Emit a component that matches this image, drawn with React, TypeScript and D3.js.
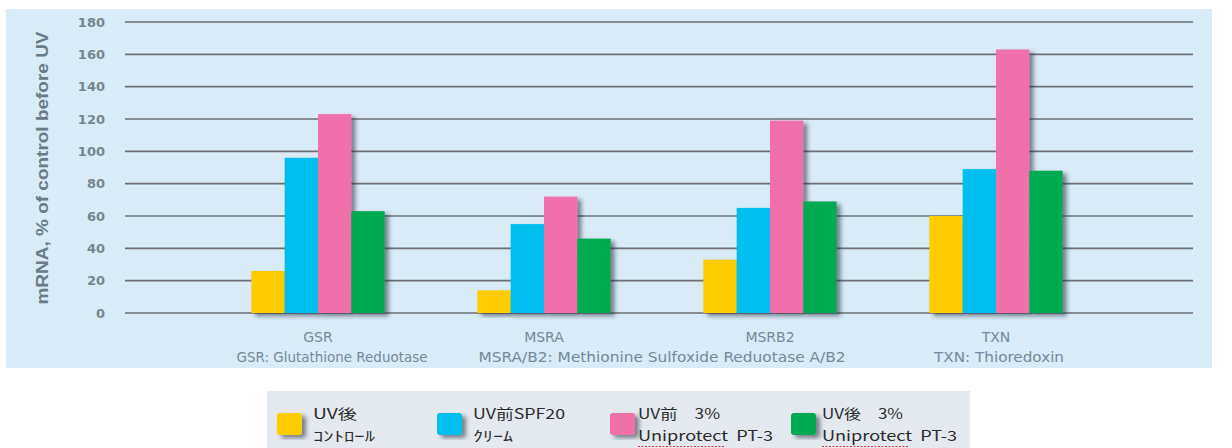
import React, { useEffect, useRef } from 'react';
import * as d3 from 'd3';

const genes = ['GSR', 'MSRA', 'MSRB2', 'TXN'];
const seriesNames = ['uvAfterControl', 'uvBeforeSpf20', 'uvBeforePt3', 'uvAfterPt3'];
const uvAfterControl = [26, 14, 33, 60];
const uvBeforeSpf20 = [96, 55, 65, 89];
const uvBeforePt3 = [123, 72, 119, 163];
const uvAfterPt3 = [63, 46, 69, 88];
const colors = ['#FFCC00', '#00BFF0', '#F06FA9', '#00AA52'];
const yTicks = [0, 20, 40, 60, 80, 100, 120, 140, 160, 180];
const legendLine1 = ['UV後', 'UV前SPF20', 'UV前　3%', 'UV後　3%'];
const legendLine2 = ['ｺﾝﾄﾛｰﾙ', 'ｸﾘｰﾑ', 'Uniprotect  PT-3', 'Uniprotect  PT-3'];
const subtitles = [
  { text: 'GSR: Glutathione Reduotase', at: 'GSR', shift: 14, w: 191 },
  { text: 'MSRA/B2: Methionine Sulfoxide Reduotase A/B2', at: 'MSRA', shift: 118, w: 367 },
  { text: 'TXN: Thioredoxin', at: 'TXN', shift: 3, w: 130 },
];

const App = () => {
  const svgRef = useRef<SVGSVGElement>(null);

  useEffect(() => {
    const svg = d3.select(svgRef.current);
    svg.selectAll('*').remove();
    const values = [uvAfterControl, uvBeforeSpf20, uvBeforePt3, uvAfterPt3];

    const defs = svg.append('defs');
    const f = defs.append('filter').attr('id', 'shadow').attr('x', '-20%').attr('y', '-10%')
      .attr('width', '160%').attr('height', '130%');
    f.append('feDropShadow').attr('dx', 4).attr('dy', 3).attr('stdDeviation', 2.2)
      .attr('flood-color', '#1a2a3a').attr('flood-opacity', 0.55);

    // panel
    svg.append('rect').attr('x', 6).attr('y', 9).attr('width', 1206).attr('height', 359)
      .attr('fill', '#D9EBF6');

    const y = d3.scaleLinear().domain([0, 180]).range([313, 22]);
    const x = d3.scaleBand().domain(genes).range([205, 1109])
      .paddingInner(0.41).paddingOuter(0.205);
    const xs = d3.scaleBand().domain(seriesNames).range([0, x.bandwidth()]);

    const grid = svg.append('g');
    grid.selectAll('line').data(yTicks).enter().append('line')
      .attr('x1', 125).attr('x2', 1193)
      .attr('y1', d => y(d)).attr('y2', d => y(d))
      .attr('stroke', '#6b6f73').attr('stroke-width', 1.6);

    const yAxis = svg.append('g').attr('transform', 'translate(105,0)')
      .call(d3.axisLeft(y).tickValues(yTicks).tickSize(0).tickPadding(0));
    yAxis.select('.domain').remove();
    yAxis.selectAll('text')
      .attr('fill', '#76858F').style('font-family', 'DejaVu Sans, sans-serif')
      .style('font-size', '13px').style('font-weight', 'bold');

    svg.append('text')
      .attr('transform', 'translate(48,168) rotate(-90)')
      .attr('text-anchor', 'middle')
      .attr('fill', '#6A7A86')
      .style('font-family', 'Liberation Sans, Arial, sans-serif')
      .style('font-size', '16px').style('font-weight', 'bold')
      .attr('textLength', 273).attr('lengthAdjust', 'spacingAndGlyphs')
      .text('mRNA, % of control before UV');

    const groups = svg.selectAll('.grp').data(genes).enter().append('g')
      .attr('class', 'grp').attr('transform', d => `translate(${x(d)},0)`);

    seriesNames.forEach((s, si) => {
      groups.append('rect')
        .attr('x', xs(s)!)
        .attr('width', xs.bandwidth())
        .attr('y', (_, gi) => y(values[si][gi]))
        .attr('height', (_, gi) => y(0) - y(values[si][gi]))
        .attr('fill', colors[si])
        .attr('filter', 'url(#shadow)');
    });

    const xAxis = svg.append('g').attr('transform', 'translate(0,342)')
      .call(d3.axisBottom(x).tickSize(0).tickPadding(0));
    xAxis.select('.domain').remove();
    xAxis.selectAll('text')
      .attr('dy', 0)
      .attr('fill', '#76889A').style('font-family', 'DejaVu Sans, sans-serif')
      .style('font-size', '14px');

    svg.append('g').selectAll('text').data(subtitles).enter().append('text')
      .attr('x', d => x(d.at)! + x.bandwidth() / 2 + d.shift)
      .attr('y', 362)
      .attr('text-anchor', 'middle')
      .attr('fill', '#76889A')
      .style('font-family', 'DejaVu Sans, sans-serif')
      .style('font-size', '13.5px')
      .attr('textLength', d => d.w).attr('lengthAdjust', 'spacingAndGlyphs')
      .text(d => d.text);

    // legend
    const lg = svg.append('g');
    lg.append('rect').attr('x', 267).attr('y', 391).attr('width', 703).attr('height', 60)
      .attr('fill', '#E3E9EF');
    const legX = d3.scaleOrdinal<string, number>().domain(seriesNames).range([277, 437, 610, 791]);
    const textX = [36, 36, 28, 31];
    const w1 = [44, 92, 82, 81];
    const w2 = [62, 40, 135, 135];
    const items = lg.selectAll('.li').data(seriesNames).enter().append('g')
      .attr('class', 'li').attr('transform', d => `translate(${legX(d)},0)`);
    items.append('rect').attr('x', 0).attr('y', 413).attr('width', 25).attr('height', 22)
      .attr('rx', 3).attr('fill', (_, i) => colors[i]).attr('filter', 'url(#shadow)');
    items.append('text').attr('x', (_, i) => textX[i]).attr('y', 419)
      .attr('fill', '#2b2b2b').style('font-family', 'Noto Sans CJK JP, sans-serif')
      .style('font-size', '14px').style('white-space', 'pre')
      .attr('textLength', (_, i) => w1[i]).attr('lengthAdjust', 'spacingAndGlyphs')
      .text((_, i) => legendLine1[i]);
    items.append('text').attr('x', (_, i) => textX[i]).attr('y', 441)
      .attr('fill', '#2b2b2b').style('font-family', 'Noto Sans CJK JP, sans-serif')
      .style('font-size', '14px').style('white-space', 'pre')
      .attr('textLength', (_, i) => w2[i]).attr('lengthAdjust', 'spacingAndGlyphs')
      .text((_, i) => legendLine2[i]);
    // spell-check squiggle under "Uniprotect"
    items.filter((_, i) => i >= 2).append('line')
      .attr('x1', (_, i) => textX[i + 2]).attr('x2', (_, i) => textX[i + 2] + 87)
      .attr('y1', 446.5).attr('y2', 446.5)
      .attr('stroke', '#d23a3a').attr('stroke-width', 1.2).attr('stroke-dasharray', '2,1.5');
  }, []);

  return (
    <svg ref={svgRef} width={1232} height={448}
      style={{ position: 'absolute', left: 0, top: 0, display: 'block' }} />
  );
};

export default App;
